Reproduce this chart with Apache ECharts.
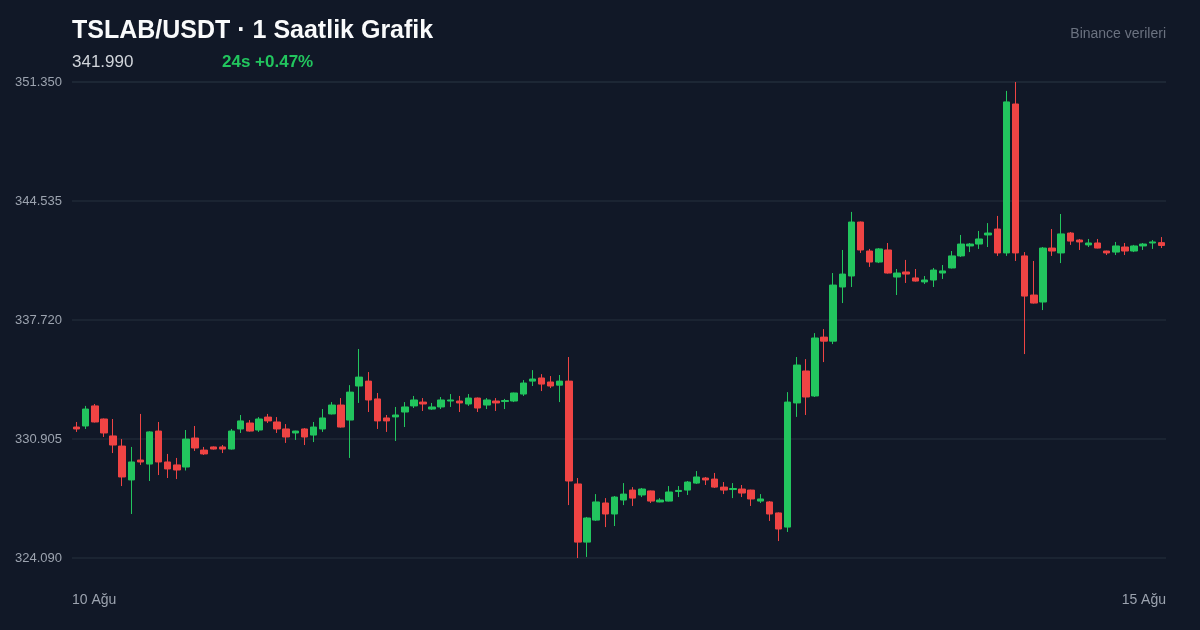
<!DOCTYPE html>
<html>
<head>
<meta charset="utf-8">
<script src="https://cdn.jsdelivr.net/npm/echarts@6.0.0/dist/echarts.min.js"></script>
<style>
  html, body { margin: 0; padding: 0; background: #111827; }
  #chart { width: 1200px; height: 630px; }
</style>
</head>
<body>
<div id="chart"></div>
<script>
// ---- data ----
const titleText = 'TSLAB/USDT · 1 Saatlik Grafik';
const lastPriceText = '341.990';
const changeText = '24s +0.47%';
const sourceText = 'Binance verileri';
const xTickLabels = ['10 Ağu', '15 Ağu'];
const yTicks = [324.09, 330.905, 337.72, 344.535, 351.35];

const opens = [331.59,331.65,332.80,332.05,331.08,330.50,328.56,329.70,329.47,331.36,
  329.59,329.42,329.30,330.96,330.27,330.45,330.45,330.33,331.48,331.82,
  331.42,332.16,331.88,331.48,331.25,331.48,331.13,331.48,332.34,332.85,
  331.99,333.94,334.22,333.20,332.11,332.17,332.45,332.80,333.02,332.62,
  332.74,333.08,333.08,332.91,333.25,332.85,333.08,333.05,333.08,333.48,
  334.22,334.40,334.17,333.99,334.22,328.33,325.00,326.26,327.24,326.61,
  327.41,327.98,327.70,327.93,327.30,327.35,327.90,327.98,328.38,328.67,
  328.61,328.15,328.01,328.04,327.98,327.35,327.30,326.67,325.86,332.97,
  334.80,333.37,336.74,336.51,339.61,340.24,343.33,341.67,341.04,341.73,
  340.18,340.47,340.13,339.90,340.01,340.41,340.70,341.39,341.96,342.07,
  342.59,342.93,341.56,350.09,341.39,339.15,338.75,341.84,341.56,342.70,
  342.30,342.02,342.13,341.67,341.61,341.90,341.67,341.96,342.13,342.15];
const closes = [331.48,332.62,331.88,331.25,330.56,328.73,329.59,329.59,331.31,329.59,
  329.19,329.13,330.90,330.39,330.05,330.33,330.33,331.36,331.94,331.36,
  332.05,331.94,331.48,331.02,331.36,331.02,331.59,332.11,332.85,331.59,
  333.59,334.45,333.14,331.94,331.94,332.28,332.74,333.14,332.91,332.74,
  333.14,333.14,332.97,333.25,332.68,333.14,332.97,333.11,333.54,334.11,
  334.34,334.05,333.94,334.22,328.50,325.00,326.38,327.30,326.61,327.58,
  327.75,327.52,328.04,327.35,327.41,327.87,327.96,328.44,328.73,328.56,
  328.15,327.98,328.07,327.81,327.47,327.47,326.61,325.75,333.02,335.14,
  333.31,336.69,336.51,339.72,340.35,343.33,341.73,341.04,341.79,340.41,
  340.41,340.35,339.95,340.01,340.58,340.53,341.39,342.07,342.07,342.36,
  342.70,341.56,350.21,341.56,339.09,338.69,341.84,341.67,342.65,342.24,
  342.19,342.13,341.84,341.56,341.96,341.67,341.96,342.07,342.19,341.99];
const lows = [331.31,331.48,331.85,331.02,330.10,328.21,326.61,329.42,328.50,328.84,
  328.67,328.61,329.10,330.22,329.99,330.30,330.10,330.30,331.25,331.33,
  331.31,331.82,331.25,330.68,330.85,330.56,330.73,331.31,332.31,331.56,
  329.82,332.97,332.45,331.48,331.31,330.79,331.59,332.68,332.51,332.57,
  332.62,332.74,332.45,332.80,332.45,332.62,332.51,332.62,333.02,333.37,
  333.94,333.65,333.82,333.02,327.12,324.09,324.15,326.21,325.86,325.92,
  327.12,327.07,327.58,327.24,327.28,327.33,327.58,327.70,328.33,328.27,
  328.10,327.75,327.52,327.58,327.07,327.24,326.21,325.06,325.58,332.17,
  332.28,333.31,335.31,336.34,338.69,339.61,341.56,340.76,340.98,340.38,
  339.15,339.84,339.92,339.78,339.61,340.07,340.67,341.33,341.61,341.79,
  341.90,341.39,341.39,341.10,335.77,338.66,338.29,341.39,340.98,342.02,
  341.73,341.90,341.82,341.44,341.44,341.44,341.61,341.73,341.79,341.84];
const highs = [331.88,332.80,332.91,332.08,332.05,330.90,330.45,332.34,331.35,331.88,
  330.05,329.82,331.42,331.65,330.45,330.48,330.56,331.48,332.28,331.99,
  332.16,332.34,332.16,331.76,331.38,331.53,331.88,332.62,333.02,333.25,
  333.99,336.06,334.74,333.54,332.28,332.74,333.02,333.37,333.25,332.97,
  333.31,333.48,333.37,333.48,333.28,333.25,333.25,333.20,333.56,334.28,
  334.85,334.62,334.51,334.57,335.60,328.67,326.44,327.75,327.52,327.64,
  328.38,328.15,328.10,327.95,327.52,328.21,328.21,328.50,329.07,328.73,
  328.96,328.44,328.38,328.27,328.00,327.75,327.35,326.70,333.59,335.60,
  335.48,336.97,337.20,340.41,341.73,343.91,343.36,341.79,341.84,342.13,
  340.64,341.16,340.64,340.24,340.70,340.87,341.67,342.59,342.13,342.82,
  343.27,343.68,350.84,351.35,341.61,341.10,341.90,342.93,343.79,342.76,
  342.36,342.36,342.36,341.69,342.19,342.13,342.02,342.13,342.30,342.47];

// hourly category labels
const categories = [];
for (let i = 0; i < opens.length; i++) {
  const d = 10 + Math.floor(i / 24);
  const h = i % 24;
  categories.push(d + ' Ağu ' + String(h).padStart(2, '0') + ':00');
}
const candleData = opens.map((o, i) => [o, closes[i], lows[i], highs[i]]);

const UP = '#22c55e', DOWN = '#ef4444';
const FONT = 'Liberation Sans, Arial, Helvetica, sans-serif';

const chart = echarts.init(document.getElementById('chart'), null, { renderer: 'canvas' });
chart.setOption({
  backgroundColor: '#111827',
  animation: false,
  textStyle: { fontFamily: FONT },
  title: [
    { text: titleText, left: 67, top: 14,
      textStyle: { color: '#f9fafb', fontSize: 25, fontWeight: 'bold', fontFamily: FONT } },
    { text: lastPriceText, left: 67, top: 49,
      textStyle: { color: '#d1d5db', fontSize: 17, fontWeight: 'normal', fontFamily: FONT } },
    { text: changeText, left: 217, top: 49,
      textStyle: { color: UP, fontSize: 17, fontWeight: 'bold', fontFamily: FONT } },
    { text: sourceText, right: 29, top: 22,
      textStyle: { color: '#6b7280', fontSize: 14, fontWeight: 'normal', fontFamily: FONT } }
  ],
  grid: { left: 72, right: 34, top: 82, bottom: 72, containLabel: false },
  xAxis: [
    { type: 'category', data: categories, boundaryGap: true,
      axisLine: { show: false }, axisTick: { show: false }, axisLabel: { show: false },
      splitLine: { show: false } },
    { type: 'value', position: 'bottom', min: 0, max: 1, interval: 1,
      axisLine: { show: false }, axisTick: { show: false }, splitLine: { show: false },
      axisLabel: { show: true, margin: 35, color: '#9ca3af', fontSize: 14, fontFamily: FONT,
        alignMinLabel: 'left', alignMaxLabel: 'right',
        formatter: v => xTickLabels[Math.round(v)] } }
  ],
  yAxis: {
    type: 'value', min: yTicks[0], max: yTicks[yTicks.length - 1],
    interval: yTicks[1] - yTicks[0], scale: true,
    axisLine: { show: false }, axisTick: { show: false },
    axisLabel: { color: '#9ca3af', fontSize: 13, margin: 10, fontFamily: FONT,
      formatter: v => v.toFixed(3) },
    splitLine: { show: true, lineStyle: { color: '#1f2937', width: 1.5 } }
  },
  series: [{
    type: 'candlestick',
    xAxisIndex: 0,
    data: candleData,
    barWidth: 7,
    itemStyle: { color: UP, color0: DOWN, borderColor: UP, borderColor0: DOWN, borderWidth: 1 }
  }]
});
</script>
</body>
</html>
